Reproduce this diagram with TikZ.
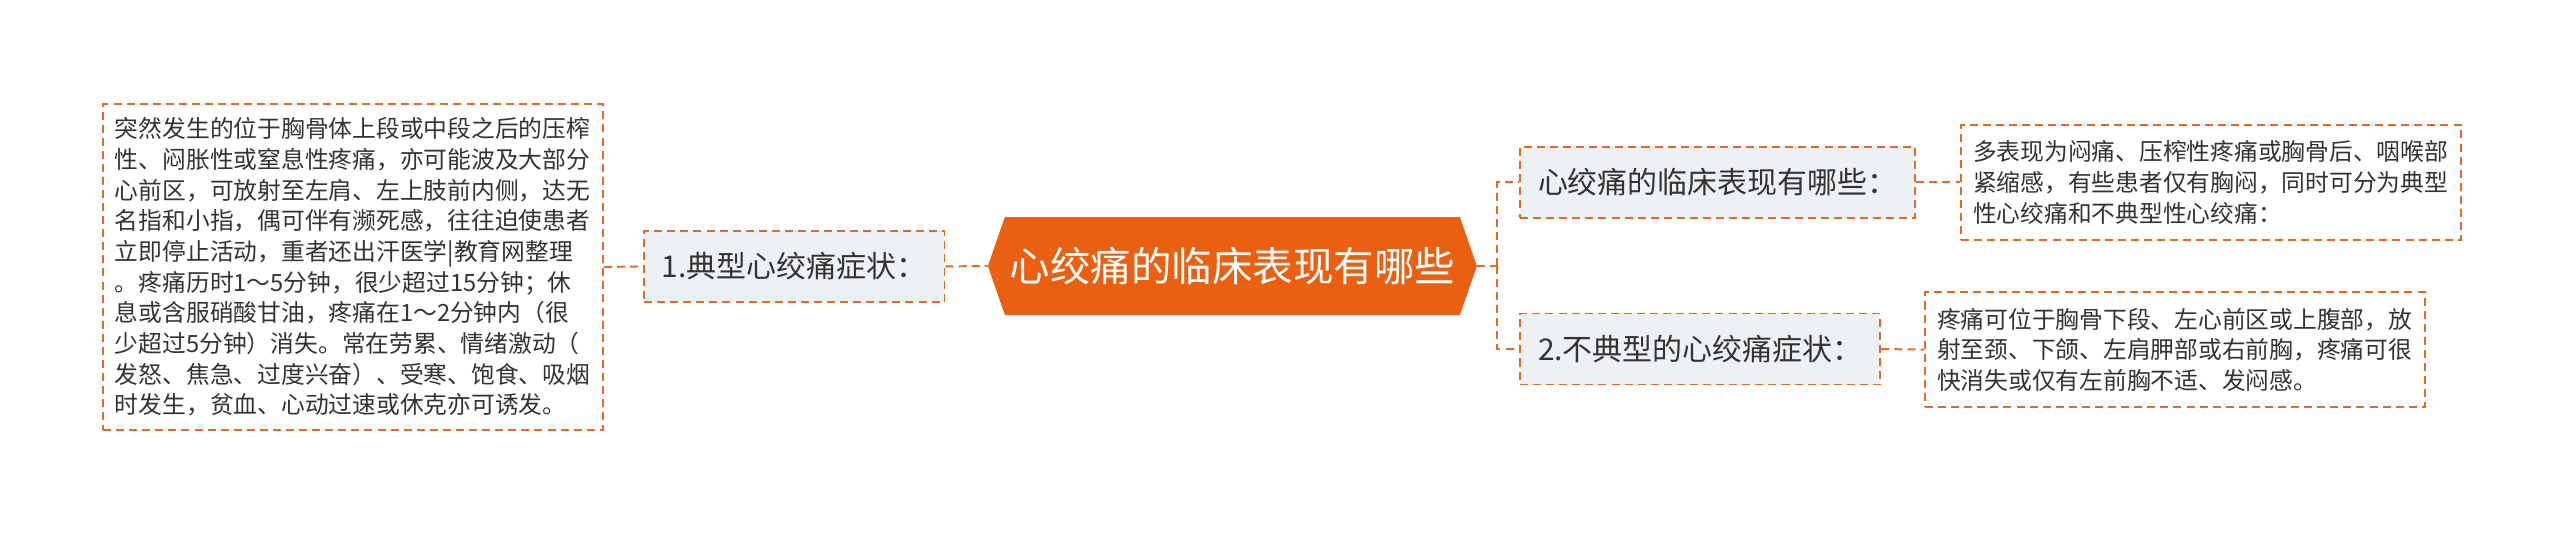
\documentclass[tikz,border=0pt]{standalone}
\usepackage{fontspec}
\setmainfont{Noto Sans CJK SC}
\usepackage{tikz}
\usetikzlibrary{calc}

\definecolor{mmorange}{HTML}{EA6010}
\definecolor{mmline}{HTML}{E06A2A}
\definecolor{mmfill}{HTML}{EEF1F4}
\definecolor{mmtext}{HTML}{333333}

\tikzset{
  link/.style={draw=mmline, line width=1.4pt, dash pattern=on 5.7pt off 3.6pt},
  leaf/.style={link, anchor=west, align=left, text width=11.9cm, inner xsep=0.3cm,
    inner ysep=0.28cm, text=mmtext, font=\fontsize{16.9pt}{21.8pt}\selectfont},
  branch/.style={link, fill=mmfill, anchor=west, inner xsep=0.45cm, minimum height=1.775cm,
    text=mmtext, font=\fontsize{21.3pt}{26pt}\selectfont},
}

\begin{document}
\begin{tikzpicture}
\useasboundingbox (0,0) rectangle (64,-13.3);
\fill[white] (0,0) rectangle (64,-13.3);

% centre
\coordinate (c) at (30.81,-6.65);
\fill[mmorange] ($(c)+(-6.1125,0)$) -- ($(c)+(-5.6875,1.225)$) -- ($(c)+(5.6875,1.225)$)
  -- ($(c)+(6.1125,0)$) -- ($(c)+(5.6875,-1.225)$) -- ($(c)+(-5.6875,-1.225)$) -- cycle;
\node[minimum width=12.225cm, minimum height=2.45cm, inner sep=0pt, text=white,
  font=\fontsize{28.8pt}{34pt}\selectfont] (root) at (c) {心绞痛的临床表现有哪些};

% left side
\node[branch] (typ) at (16.075,-6.66) {1.典型心绞痛症状：};
\node[leaf, minimum height=8.15cm] (typtext) at (2.55,-6.675) {突然发生的位于胸骨体上段或中段之后的压榨\\
性、闷胀性或窒息性疼痛，亦可能波及大部分\\
心前区，可放射至左肩、左上肢前内侧，达无\\
名指和小指，偶可伴有濒死感，往往迫使患者\\
立即停止活动，重者还出汗医学|教育网整理\\
。疼痛历时1～5分钟，很少超过15分钟；休\\
息或含服硝酸甘油，疼痛在1～2分钟内（很\\
少超过5分钟）消失。常在劳累、情绪激动（\\
发怒、焦急、过度兴奋）、受寒、饱食、吸烟\\
时发生，贫血、心动过速或休克亦可诱发。};

% right side
\coordinate (fork) at (37.425,-6.65);
\node[branch] (sign) at (37.975,-4.56) {心绞痛的临床表现有哪些：};
\node[branch] (atyp) at (37.975,-8.725) {2.不典型的心绞痛症状：};
\node[leaf, minimum height=2.875cm] (signtext) at (49.0,-4.56) {多表现为闷痛、压榨性疼痛或胸骨后、咽喉部\\
紧缩感，有些患者仅有胸闷，同时可分为典型\\
性心绞痛和不典型性心绞痛：};
\node[leaf, minimum height=2.875cm] (atyptext) at (48.1,-8.74) {疼痛可位于胸骨下段、左心前区或上腹部，放\\
射至颈、下颌、左肩胛部或右前胸，疼痛可很\\
快消失或仅有左前胸不适、发闷感。};

\draw[link] (typtext.east) -- (typ.west);
\draw[link] (typ.east) -- (root.west);
\draw[link] (root.east) -- (fork);
\draw[link] (fork) |- (sign.west);
\draw[link] (fork) |- (atyp.west);
\draw[link] (sign.east) -- (signtext.west);
\draw[link] (atyp.east) -- (atyptext.west);
\end{tikzpicture}
\end{document}
